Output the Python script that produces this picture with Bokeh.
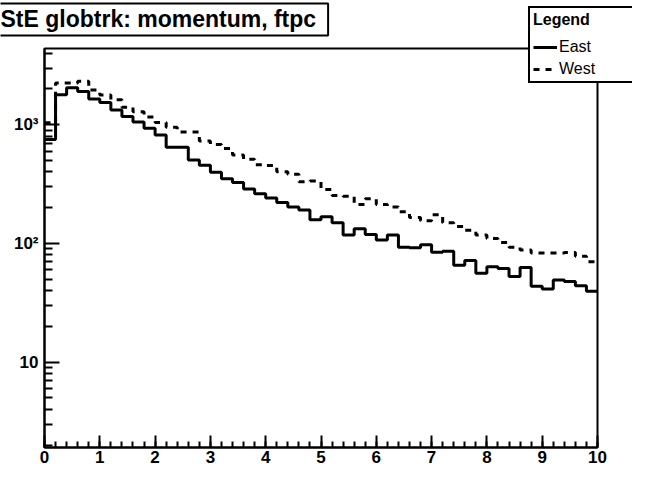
import math
from bokeh.plotting import figure
from bokeh.models import FixedTicker, Legend, LegendItem, Label, BoxAnnotation
from bokeh.embed import file_html
from bokeh.resources import INLINE

# ---- data -----------------------------------------------------------
title_text = "StE globtrk: momentum, ftpc"
legend_title = "Legend"
series_names = ["East", "West"]

x_tick_values = [0, 1, 2, 3, 4, 5, 6, 7, 8, 9, 10]
x_minor_ticks = [round(0.2 * i, 1) for i in range(51)]
y_tick_values = [10, 100, 1000]
y_tick_labels = ["10", "10\u00b2", "10\u00b3"]
y_minor_ticks = [2, 3, 4, 5, 6, 7, 8, 9,
                 20, 30, 40, 50, 60, 70, 80, 90,
                 200, 300, 400, 500, 600, 700, 800, 900,
                 2000, 3000, 4000]

bin_edges = [round(0.2 * i, 1) for i in range(51)]

east = [750, 1785, 2046, 1900, 1650, 1535, 1330, 1175, 1055, 935,
        820, 645, 645, 505, 455, 398, 350, 326, 288, 262,
        241, 221, 203, 191, 158, 168, 149, 118, 133, 119,
        107, 118, 93, 92, 97.5, 84.4, 85.8, 65.5, 71.9, 56,
        63.5, 61.5, 52.6, 62.7, 43.6, 41.4, 49.3, 47.8, 44.1, 39.6]

west = [1040, 2250, 2250, 2320, 1960, 1780, 1620, 1400, 1285, 1160,
        1045, 950, 870, 870, 730, 680, 631, 555, 513, 461,
        453, 401, 382, 330, 335, 284, 253, 250, 213, 238,
        213, 203, 185, 165, 155, 174, 149, 139, 129, 118,
        110, 102, 93, 88, 83, 83, 83, 84, 78, 70]

x_min, x_max = 0.0, 10.0
y_min, y_max = 1.91, 4385.0

# ---- geometry (pixels) ----------------------------------------------
W, H = 632, 466
FRAME_L, FRAME_R, FRAME_T, FRAME_B = 44, 597, 48, 447

px_per_x = (FRAME_R - FRAME_L) / (x_max - x_min)
xr = (x_min - FRAME_L / px_per_x, x_max + (W - FRAME_R) / px_per_x)
dec = math.log10(y_max) - math.log10(y_min)
px_per_dec = (FRAME_B - FRAME_T) / dec
yr = (10 ** (math.log10(y_min) - (H - FRAME_B) / px_per_dec),
      10 ** (math.log10(y_max) + FRAME_T / px_per_dec))

FONT = "Liberation Sans"

p = figure(width=W, height=H, x_range=xr, y_range=yr,
           y_axis_type="log", output_backend="svg", toolbar_location=None,
           title=None, min_border=0, min_border_left=0, min_border_right=0,
           min_border_top=0, min_border_bottom=0)

p.background_fill_color = "white"
p.border_fill_color = "white"
p.outline_line_color = None
p.xgrid.visible = False
p.ygrid.visible = False

# x axis
xa = p.xaxis[0]
xa.fixed_location = y_min
xa.bounds = (x_min, x_max)
xa.ticker = FixedTicker(ticks=x_tick_values, minor_ticks=x_minor_ticks)
xa.axis_line_width = 2
xa.axis_line_color = "black"
xa.major_tick_in = 12
xa.major_tick_out = 0
xa.minor_tick_in = 6
xa.minor_tick_out = 0
xa.major_tick_line_width = 2
xa.minor_tick_line_width = 2
xa.major_tick_line_color = "black"
xa.minor_tick_line_color = "black"
xa.major_label_text_font = FONT
xa.major_label_text_font_style = "bold"
xa.major_label_text_font_size = "17px"
xa.major_label_text_color = "black"
xa.major_label_standoff = 3

# y axis
ya = p.yaxis[0]
ya.fixed_location = x_min
ya.bounds = (y_min, y_max)
ya.ticker = FixedTicker(ticks=y_tick_values, minor_ticks=y_minor_ticks)
ya.major_label_overrides = {v: s for v, s in zip(y_tick_values, y_tick_labels)}
ya.axis_line_width = 2
ya.axis_line_color = "black"
ya.major_tick_in = 15
ya.major_tick_out = 0
ya.minor_tick_in = 8
ya.minor_tick_out = 0
ya.major_tick_line_width = 2
ya.minor_tick_line_width = 2
ya.major_tick_line_color = "black"
ya.minor_tick_line_color = "black"
ya.major_label_text_font = FONT
ya.major_label_text_font_style = "bold"
ya.major_label_text_font_size = "17px"
ya.major_label_text_color = "black"
ya.major_label_standoff = 6

# histograms
r_east = p.step(x=bin_edges, y=east + [east[-1]], mode="after",
                line_color="black", line_width=3)
r_west = p.step(x=bin_edges, y=west + [west[-1]], mode="after",
                line_color="black", line_width=3, line_dash="6 6")

# legend
legend = Legend(items=[LegendItem(label=series_names[0], renderers=[r_east]),
                       LegendItem(label=series_names[1], renderers=[r_west])],
                location=(528, H - 83), title=legend_title,
                title_text_font=FONT, title_text_font_style="bold",
                title_text_font_size="16px", title_standoff=9,
                title_text_color="black",
                label_text_font=FONT, label_text_font_size="16px",
                label_text_color="black",
                label_standoff=2, label_width=100, label_height=18,
                glyph_width=24, glyph_height=18, spacing=4, padding=3,
                margin=0, border_line_color="black", border_line_width=2,
                border_line_alpha=1.0,
                background_fill_color="white", background_fill_alpha=1.0)
p.add_layout(legend)

# ROOT-style frame box, drawn over the legend
frame_box = BoxAnnotation(left=x_min, right=x_max, bottom=y_min, top=y_max,
                          fill_alpha=0, line_color="black", line_alpha=1.0,
                          line_width=2, level="overlay")
p.add_layout(frame_box)

# title box
title = Label(x=-8, y=H - 19, x_units="screen", y_units="screen",
              text=title_text, text_font=FONT, text_font_style="bold",
              text_font_size="23px", text_color="black",
              text_align="left", text_baseline="alphabetic",
              border_line_color="black", border_line_width=2,
              border_line_alpha=1.0,
              background_fill_color="white", background_fill_alpha=1.0,
              padding=dict(left=8, right=12, top=2, bottom=4))
p.add_layout(title)

open("out.html", "w").write(file_html(p, INLINE))
